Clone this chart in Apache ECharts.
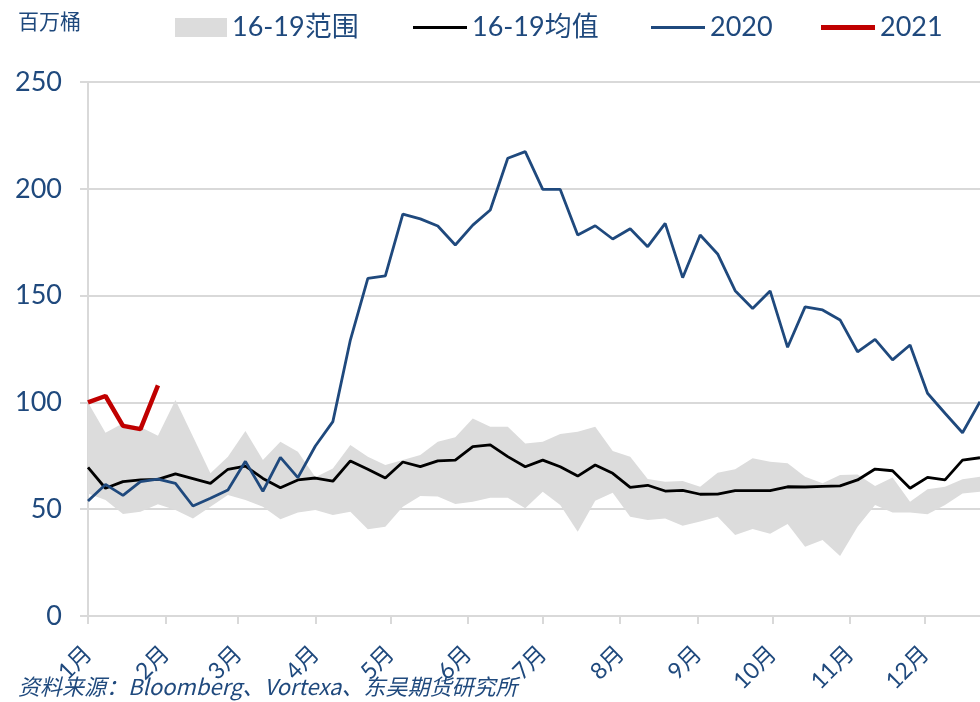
<!DOCTYPE html>
<html>
<head>
<meta charset="utf-8">
<script src="https://cdn.jsdelivr.net/npm/echarts@6/dist/echarts.min.js"></script>
<style>
  html, body { margin: 0; padding: 0; background: #fff; }
  #main { width: 980px; height: 702px; }
</style>
</head>
<body>
<div id="main"></div>
<script>
// 周数据：第 i 周；月份刻度按一年中的天数放在另一条数值轴上
var weeks = [];
for (var i = 0; i < 52; i++) weeks.push('W' + (i + 1));
var monthStarts = [0, 31, 60, 91, 121, 152, 182, 213, 244, 274, 305, 335];
var monthLabels = ['1月', '2月', '3月', '4月', '5月', '6月', '7月', '8月', '9月', '10月', '11月', '12月'];

// 16-19 区间上沿 / 下沿
var rangeHigh = [100, 85.8, 90.2, 88.5, 84.4, 101.1, 84, 66.8, 74.6, 86.6,
  73, 81.6, 76.9, 65, 69.1, 80, 74.6, 70.7, 73, 75.4,
  81.6, 83.7, 92.5, 88.6, 88.6, 80.8, 81.6, 85.2, 86.3, 88.6,
  77.2, 74.6, 64.1, 62.9, 63.2, 60.5, 67.1, 68.7, 73.8, 72.2,
  71.5, 65.2, 62.1, 66, 66.3, 60.9, 64.8, 53.5, 59.3, 60.5,
  64, 65.2];
var rangeLow = [57.4, 54.3, 47.8, 48.8, 52.3, 49.6, 45.7, 51.2, 56.6, 54.3,
  51.2, 45.3, 48.4, 49.6, 47.3, 48.8, 40.6, 41.8, 51.2, 56.2,
  55.9, 52.4, 53.5, 55.4, 55.4, 50.4, 58.2, 52, 39.5, 54,
  57.7, 46.5, 44.9, 45.7, 42.3, 44.2, 46.5, 37.9, 40.7, 38.5,
  43.1, 32.4, 35.6, 28.1, 41.8, 52, 48.4, 48.4, 47.6, 52,
  57.4, 58.2];
// 16-19 均值
var avg1619 = [69.6, 59.8, 62.9, 63.7, 64, 66.5, 64.3, 62.1, 68.7, 70.2,
  64.4, 60, 63.7, 64.6, 63.1, 72.6, 68.7, 64.6, 72.1, 69.9,
  72.6, 73, 79.3, 80.1, 74.6, 69.9, 73, 69.9, 65.5, 70.7,
  66.8, 60.2, 61.2, 58.5, 58.8, 57, 57.1, 58.7, 58.7, 58.7,
  60.5, 60.4, 60.7, 60.9, 63.7, 68.8, 68, 59.8, 64.9, 63.7,
  73, 74.1];
var y2020 = [53.8, 61.6, 56.5, 62.9, 64.1, 62.1, 51.5, 55.1, 59, 72.4,
  58.4, 74.3, 64.8, 79.6, 91, 129.2, 158.1, 159.2, 188.1, 185.9,
  182.6, 173.7, 183, 190.1, 214.3, 217.4, 199.7, 199.7, 178.4, 182.7,
  176.5, 181.3, 172.9, 183.8, 158.4, 178.4, 169.5, 152.3, 144, 152.2,
  125.8, 144.7, 143.3, 138.6, 123.7, 129.5, 119.9, 126.9, 104.3, 94.9,
  85.8, 100.3];
var y2021 = [100, 103, 89, 87.5, 108];

var TXT = '#1f497d';
var FONT = "Lato, 'Noto Sans CJK SC', sans-serif";

var myChart = echarts.init(document.getElementById('main'));

var legendBase = {
  top: 9,
  icon: 'rect',
  itemWidth: 54,
  itemHeight: 3,
  textStyle: { color: TXT, fontSize: 27, fontFamily: FONT }
};

var option = {
  animation: false,
  backgroundColor: '#fff',
  grid: { left: 88, right: 0, top: 82, bottom: 86, containLabel: false },
  legend: [
    Object.assign({}, legendBase, { left: 170, itemWidth: 52, itemHeight: 19, data: ['16-19范围'] }),
    Object.assign({}, legendBase, { left: 408, data: ['16-19均值'] }),
    Object.assign({}, legendBase, { left: 646, data: ['2020'] }),
    Object.assign({}, legendBase, { left: 816, itemHeight: 5, data: ['2021'] })
  ],
  graphic: [
    { type: 'text', left: 18, top: 11, style: { text: '百万桶', fill: TXT, font: "21px 'Noto Sans CJK SC'" } },
    { type: 'text', left: 18, top: 676, style: { text: '资料来源：Bloomberg、Vortexa、东吴期货研究所', fill: TXT, font: "italic 22px 'Noto Sans CJK SC'" } }
  ],
  xAxis: [
    {
      type: 'category',
      position: 'top',
      data: weeks,
      boundaryGap: false,
      show: false
    },
    {
      type: 'value',
      position: 'bottom',
      min: 0,
      max: 357,
      splitLine: { show: false },
      axisLine: { lineStyle: { color: '#d9d9d9', width: 2 } },
      axisTick: { show: true, customValues: monthStarts, length: 8, lineStyle: { color: '#d9d9d9', width: 2 } },
      axisLabel: {
        customValues: monthStarts,
        rotate: 45,
        margin: 34,
        color: TXT,
        fontSize: 23,
        fontFamily: FONT,
        formatter: function (v) { return monthLabels[monthStarts.indexOf(v)]; }
      }
    }
  ],
  yAxis: {
    type: 'value',
    min: 0,
    max: 250,
    interval: 50,
    axisLine: { show: true, lineStyle: { color: '#d9d9d9', width: 2 } },
    axisTick: { show: true, length: 8, lineStyle: { color: '#d9d9d9', width: 2 } },
    splitLine: { lineStyle: { color: '#d9d9d9', width: 2 } },
    axisLabel: { color: TXT, fontSize: 27, fontFamily: FONT, margin: 26 }
  },
  series: [
    {
      name: 'low',
      type: 'line',
      stack: 'band',
      symbol: 'none',
      lineStyle: { opacity: 0 },
      data: rangeLow
    },
    {
      name: '16-19范围',
      type: 'line',
      stack: 'band',
      symbol: 'none',
      itemStyle: { color: '#dcdcdc' },
      lineStyle: { opacity: 0, width: 0 },
      areaStyle: { color: '#dcdcdc', opacity: 1 },
      data: rangeHigh.map(function (v, i) { return v - rangeLow[i]; })
    },
    {
      name: '16-19均值',
      type: 'line',
      symbol: 'none',
      itemStyle: { color: '#000' },
      lineStyle: { color: '#000', width: 2.8 },
      data: avg1619
    },
    {
      name: '2020',
      type: 'line',
      symbol: 'none',
      itemStyle: { color: '#1f497d' },
      lineStyle: { color: '#1f497d', width: 2.8 },
      data: y2020
    },
    {
      name: '2021',
      type: 'line',
      symbol: 'none',
      itemStyle: { color: '#c00000' },
      lineStyle: { color: '#c00000', width: 4.5 },
      data: y2021
    }
  ]
};

myChart.setOption(option);
</script>
</body>
</html>
